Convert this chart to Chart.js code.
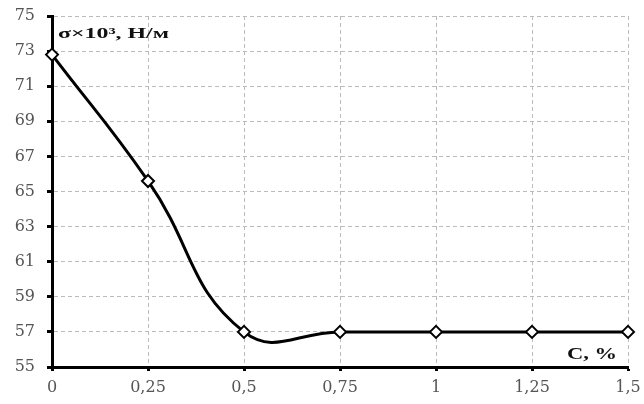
<!DOCTYPE html>
<html><head><meta charset="utf-8">
<script src="https://cdn.jsdelivr.net/npm/chart.js@4"></script>
<style>html,body{margin:0;padding:0;background:#fff}#w{width:644px;height:404px}</style>
</head><body><div id="w"><canvas id="c"></canvas></div>
<script>
const categories = ["0","0,25","0,5","0,75","1","1,25","1,5"];
const sigmaValues = [72.8, 65.6, 57.0, 57.0, 57.0, 57.0, 57.0];
const yTicks = [55,57,59,61,63,65,67,69,71,73,75];
const yTitle = "σ×10³, Н/м";
const xTitle = "C, %";

function stretchText(ctx, text, x, y, targetW, align){
  const w = ctx.measureText(text).width;
  const k = targetW / w;
  ctx.save();
  const x0 = align === 'right' ? x - targetW : x;
  ctx.translate(x0, y);
  ctx.scale(k, 1);
  ctx.textAlign = 'left';
  ctx.fillText(text, 0, 0);
  ctx.restore();
}

const labelsPlugin = {
  id: 'lbl',
  afterDraw(chart){
    const ctx = chart.ctx, a = chart.chartArea;
    ctx.save();
    ctx.fillStyle = '#111';
    ctx.textBaseline = 'middle';
    ctx.font = 'bold 14px "Liberation Serif"';
    stretchText(ctx, yTitle, a.left + 6, a.top + 18, 111, 'left');
    ctx.font = 'bold 16px "Liberation Serif"';
    stretchText(ctx, xTitle, a.right - 11, a.bottom - 12, 50, 'right');
    ctx.restore();
  }
};

new Chart(document.getElementById('c'), {
  type: 'line',
  data: { labels: categories, datasets: [{
    data: sigmaValues, borderColor: '#000', borderWidth: 3, tension: 0.45,
    pointStyle: 'rectRot', pointRadius: 6, pointBackgroundColor: '#fff',
    pointBorderColor: '#000', pointBorderWidth: 2, fill: false
  }]},
  options: {
    responsive: true, maintainAspectRatio: false, animation: false,
    layout: { padding: { top: 16, right: 16, left: 0, bottom: 0 } },
    plugins: { legend: { display: false }, tooltip: { enabled: false } },
    scales: {
      x: {
        offset: false,
        grid: { color: '#bbb', tickColor: '#000', tickWidth: 3, tickLength: 4, tickBorderDash: [] },
        border: { color: '#000', width: 3, dash: [4,3] },
        ticks: { color: '#555', font: { family: '"DejaVu Serif"', size: 16 }, padding: 7, maxRotation: 0 },
        afterFit(s){ s.height = 37; s.paddingLeft = 0; s.paddingRight = 0; }
      },
      y: {
        min: 55, max: 75,
        afterBuildTicks(s){ s.ticks = yTicks.map(v => ({value: v})); },
        grid: { color: '#bbb', tickColor: '#000', tickWidth: 3, tickLength: 5, tickBorderDash: [] },
        border: { color: '#000', width: 3, dash: [4,3] },
        ticks: { color: '#555', font: { family: '"DejaVu Serif"', size: 16 }, padding: 12 },
        afterFit(s){ s.width = 52; s.paddingTop = 0; s.paddingBottom = 0; }
      }
    }
  },
  plugins: [labelsPlugin]
});
</script></body></html>
